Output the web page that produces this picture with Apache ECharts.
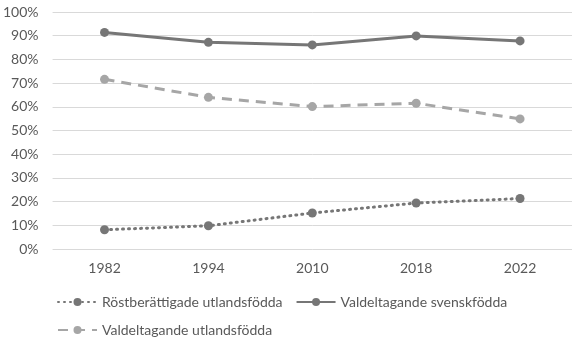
<!DOCTYPE html>
<html><head><meta charset="utf-8">
<script src="https://cdn.jsdelivr.net/npm/echarts@6/dist/echarts.min.js"></script>
<style>html,body{margin:0;padding:0;background:#fff}#c{width:582px;height:338px}</style>
</head><body><div id="c"></div>
<script>
const categories = ['1982','1994','2010','2018','2022'];
const rostberattigade = [8.1, 9.8, 15.2, 19.4, 21.3];
const svenskfodda = [91.4, 87.2, 86.1, 89.9, 87.8];
const utlandsfodda = [71.6, 64.0, 60.1, 61.5, 54.9];
const seriesNames = ['Röstberättigade utlandsfödda','Valdeltagande svenskfödda','Valdeltagande utlandsfödda'];

const font = 'Lato';
const chart = echarts.init(document.getElementById('c'), null, {renderer:'canvas'});
const dark = '#767676', light = '#a6a6a6';
chart.setOption({
  animation:false,
  grid:{left:52, right:10, top:12, bottom:89, containLabel:false},
  xAxis:{type:'category', data:categories, boundaryGap:true,
    axisLine:{show:false}, axisTick:{show:false},
    axisLabel:{color:'#595959', fontFamily:font, fontSize:14, margin:12}},
  yAxis:{type:'value', min:0, max:100, interval:10,
    axisLine:{show:false}, axisTick:{show:false},
    axisLabel:{formatter:'{value}%', color:'#595959', fontFamily:font, fontSize:14, margin:14},
    splitLine:{lineStyle:{color:'#d9d9d9', width:1}}},
  legend:[{
    data:[seriesNames[0], seriesNames[1]], left:57, top:295, padding:0, itemWidth:39, itemHeight:10, itemGap:13,
    textStyle:{color:'#595959', fontFamily:font, fontSize:14}
  },{
    data:[seriesNames[2]], left:57, top:323, padding:0, itemWidth:39, itemHeight:10, itemGap:4,
    textStyle:{color:'#595959', fontFamily:font, fontSize:14}
  }],
  series:[
    {name:seriesNames[0], type:'line', data:rostberattigade, symbol:'circle', symbolSize:9,
      itemStyle:{color:dark}, lineStyle:{color:dark, width:3, type:[1,5], cap:'round'}},
    {name:seriesNames[1], type:'line', data:svenskfodda, symbol:'circle', symbolSize:9,
      itemStyle:{color:dark}, lineStyle:{color:dark, width:3}},
    {name:seriesNames[2], type:'line', data:utlandsfodda, symbol:'circle', symbolSize:9,
      itemStyle:{color:light}, lineStyle:{color:light, width:3, type:[10,7]}}
  ]
});
</script></body></html>
